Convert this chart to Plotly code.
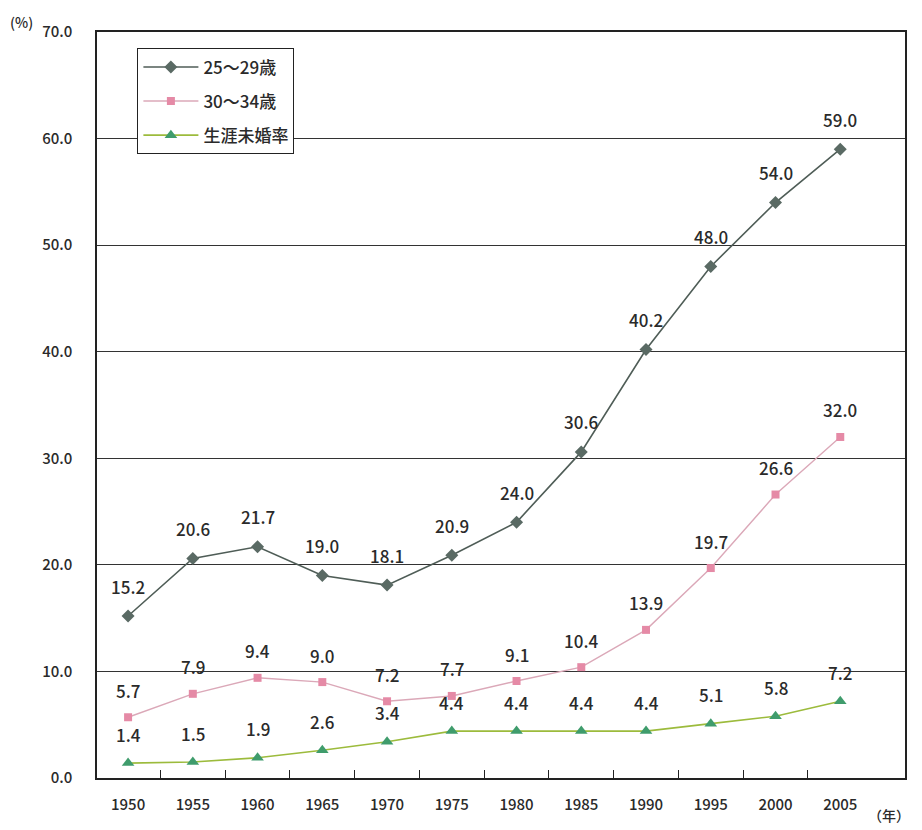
import plotly.graph_objects as go

years = [1950, 1955, 1960, 1965, 1970, 1975, 1980, 1985, 1990, 1995, 2000, 2005]
age25_29 = [15.2, 20.6, 21.7, 19.0, 18.1, 20.9, 24.0, 30.6, 40.2, 48.0, 54.0, 59.0]
age30_34 = [5.7, 7.9, 9.4, 9.0, 7.2, 7.7, 9.1, 10.4, 13.9, 19.7, 26.6, 32.0]
lifetime = [1.4, 1.5, 1.9, 2.6, 3.4, 4.4, 4.4, 4.4, 4.4, 5.1, 5.8, 7.2]
names = ["25～29歳", "30～34歳", "生涯未婚率"]
yticks = [0, 10, 20, 30, 40, 50, 60, 70]

FONT = "Noto Sans CJK JP"
TXT = "#2a2a2a"
XRANGE = [1947.6, 2010]

fig = go.Figure()
fig.add_trace(go.Scatter(
    x=years, y=age25_29, name=names[0], mode="lines+markers", legendgroup="a",
    line=dict(color="#4f5d57", width=1.6),
    marker=dict(symbol="diamond", size=10, color="#5a6a64")))
fig.add_trace(go.Scatter(
    x=years, y=age30_34, name=names[1], mode="lines+markers", legendgroup="b",
    line=dict(color="#dba8b8", width=1.4),
    marker=dict(symbol="square", size=8, color="#e58aa6")))
fig.add_trace(go.Scatter(
    x=years, y=lifetime, name=names[2], mode="lines+markers", legendgroup="c",
    line=dict(color="#9cbb3c", width=1.6),
    marker=dict(symbol="triangle-up", size=11, color="#3f9c6c")))

# invisible helper trace on the overlay axis that carries the boundary tick marks
fig.add_trace(go.Scatter(x=[years[0], years[-1]], y=[0, 0], xaxis="x2",
                         mode="markers", marker=dict(opacity=0),
                         showlegend=False, hoverinfo="skip"))

for series, shift in [(age25_29, 30), (age30_34, 27), (lifetime, 29)]:
    for x, v in zip(years, series):
        fig.add_annotation(x=x, y=v, text=f"{v:.1f}", showarrow=False,
                           yshift=shift,
                           font=dict(family=FONT, size=17, color=TXT, weight=500))

fig.add_annotation(xref="paper", yref="paper", x=-0.11, y=1.0, xanchor="left",
                   yanchor="middle", yshift=10, text="(%)", showarrow=False,
                   font=dict(family=FONT, size=14, color=TXT, weight=500))
fig.add_annotation(xref="paper", yref="paper", x=0.952, y=-0.05, xanchor="left",
                   yanchor="middle", text="（年）", showarrow=False,
                   font=dict(family=FONT, size=14, color=TXT, weight=500))

fig.update_layout(
    width=914, height=822,
    margin=dict(l=89, r=17, t=24, b=52),
    paper_bgcolor="white", plot_bgcolor="white",
    font=dict(family=FONT, color=TXT),
    showlegend=True,
    legend=dict(x=0.05, y=0.978, xanchor="left", yanchor="top",
                bordercolor="#222", borderwidth=1, bgcolor="white",
                font=dict(family=FONT, size=17, color=TXT, weight=500),
                itemwidth=55, entrywidth=180, entrywidthmode="pixels",
                tracegroupgap=9),
    xaxis=dict(range=XRANGE, tickvals=years,
               ticktext=[str(y) for y in years], showgrid=False,
               showline=True, linecolor="#222", linewidth=1.5, mirror=True,
               ticks="", zeroline=False, ticklabelstandoff=12,
               tickfont=dict(family=FONT, size=15, color=TXT, weight=500)),
    xaxis2=dict(overlaying="x", anchor="y", side="bottom", range=XRANGE,
                tickmode="array", tickvals=[y + 2.5 for y in years[:-1]],
                showticklabels=False,
                ticks="inside", ticklen=8, tickcolor="#222", tickwidth=1.2,
                showgrid=False, showline=False, zeroline=False),
    yaxis=dict(range=[0, 70], tickvals=yticks,
               ticktext=[f"{v:.1f}" for v in yticks],
               showgrid=True, gridcolor="#333", gridwidth=1,
               showline=True, linecolor="#222", linewidth=1.5, mirror=True,
               zeroline=False, ticks="", ticklabelstandoff=20,
               tickfont=dict(family=FONT, size=15, color=TXT, weight=500)),
)

fig.write_html("out.html")
